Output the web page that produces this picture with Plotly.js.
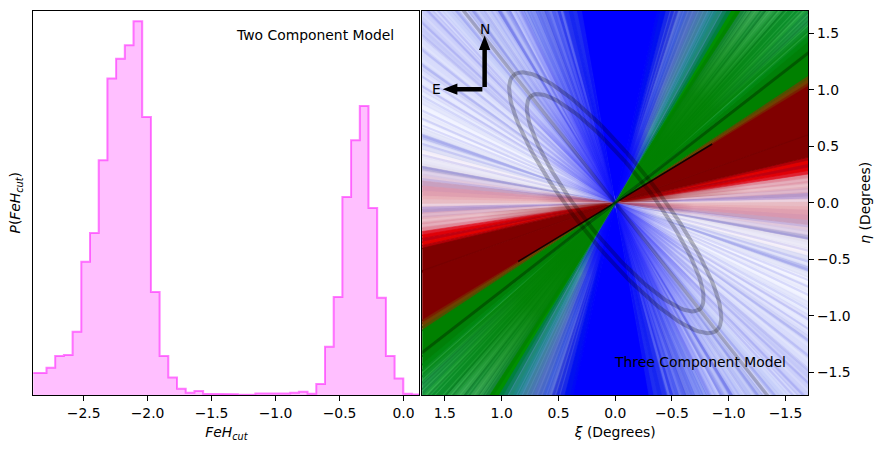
<!DOCTYPE html>
<html>
<head>
<meta charset="utf-8">
<script src="https://cdn.plot.ly/plotly-3.0.1.min.js"></script>
<style>html,body{margin:0;padding:0;background:#fff}#chart{width:884px;height:452px}</style>
</head>
<body>
<div id="chart"></div>
<script>
// ---- Left panel: metallicity histogram ----
const binEdges = [-2.926,-2.858,-2.790,-2.722,-2.654,-2.586,-2.518,-2.450,-2.382,-2.314,-2.246,-2.178,-2.110,-2.042,-1.974,-1.906,-1.838,-1.770,-1.702,-1.634,-1.566,-1.498,-1.430,-1.362,-1.294,-1.226,-1.158,-1.090,-1.022,-0.954,-0.886,-0.818,-0.750,-0.682,-0.614,-0.546,-0.478,-0.410,-0.342,-0.274,-0.206,-0.138,-0.070,-0.002,0.066,0.134];
const binDensity = [0.083,0.083,0.103,0.148,0.152,0.240,0.505,0.614,0.890,1.200,1.275,1.326,1.417,1.054,0.391,0.148,0.066,0.024,0.009,0.015,0.005,0.005,0.003,0.003,0.001,0.001,0.006,0.006,0.006,0.006,0.009,0.012,0.005,0.042,0.183,0.372,0.751,0.966,1.096,0.709,0.369,0.148,0.063,0.005,0.002];
const histTicks = [-2.5,-2,-1.5,-1,-0.5,0];

// ---- Right panel: position-angle fan (degrees CCW on screen from the right, each ray runs both ways) ----
const rayAngles = [0,1.2,2,3,4.5,6,7.5,8.5,9.5,10.5,11.5,12.5,13.3,19.4,19.7,31.4,32,32.8,33.5,38.5,40,41,42,43,44,45.1,46.5,47.7,49,50.6,52,53.2,54.5,55.7,57,59,60,61,62.2,63.5,64.6,65.8,67.1,68.5,69.7,71,72,73.2,74.3,75.4,77,77.9,99.9,101.3,102.5,103.7,105,106,107.4,109,110,110.9,112.2,113.2,114.3,115.5,116.5,117.5,118.5,119.5,120.6,121.5,123,124.5,126,127.5,129,130.5,132,133.3,134.7,136.5,138.2,139.5,141,142.5,144,145.5,147,148.5,150,151.5,153,155,157,158.7,160.3,161.8,163.5,164.7,166.5,168.4,169.2,170.5,172,173.5,175,176.5,178,179,180];
const rayColors = ['#e8c8d8','#d8b8d4','#b898c8','#d8a8c0','#e4b0bc','#e09cac','#e08898','#e02030','#e00008','#c00010','#e00000','#b00008','#800000','#760000','#800000','#7a2000','#704000','#505000','#008000','#008008','#008810','#0a8c20','#109030','#20984a','#189040','#20a040','#0e9030','#109030','#28a048','#38a858','#209048','#40a860','#38a060','#208850','#009000','#008040','#108060','#208878','#208888','#3488a0','#4080a0','#4878b0','#5070c0','#4868c8','#4060d8','#5068d8','#3040d8','#2030e0','#1828e8','#0010f0','#0008f8','#0000ff','#1018f8','#2030f0','#1828f0','#2838f0','#4050f0','#3848f0','#5060f0','#6070f0','#5060e8','#7080f0','#6878f0','#8898f4','#7888f0','#98a0f6','#a0a8f8','#b0b8fa','#98a0f2','#a8b0f6','#8890ee','#b0b8f8','#c0c8f8','#b8c0f6','#a8b0f0','#c8ccfa','#b8c0f6','#c8d0fa','#d4d8fc','#c0c4f8','#ccd0fa','#c4c8f8','#c8ccf8','#dadefc','#d0d4fa','#d8dcfc','#c8ccf6','#dcdffc','#e4e7fe','#d8dafa','#e8ecfe','#dfe2fb','#f0f2ff','#e8eafc','#f2f3ff','#e0e2f8','#bcc0f0','#dcdef8','#d8daf4','#f4eef8','#e8e6f6','#e4e0f0','#b8b0d8','#d8c8e4','#e0c8dc','#c8a0c0','#d898b0','#e0a0b0','#e8b0b8','#e8bcc4'];
// Fine streaks on top of the wedges
const paleStreaks = [105.5,107,108.6,110.5,112.8,114.9,116.9,118.1,120,122.2,123.9,125.5,127,128.6,130.1,131.5,133.8,135.6,137.3,139,140.6,142.2,143.4,145,146.3,147.8,149.3,150.8,152.2,153.6,155.8,157.6,159.4,162.4,163.9,165.5,167.2,171,0.6,3.6,5.2,6.8];
const blueStreaks = [104.2,106.4,109.6,111.6,113.7,115.9,118.7,121,124.1,126.4,129.5,132.6,134.2,136.9,138.9,141.5,144.4,146.7,148.8,151,154.4,156.4,158.1,160.8,163,166,169.5,173,1.6];
const greenStreaks = [41.5,42.7,44.4,45.6,47,48.3,49.6,51.2,52.6,53.9,55,56];
const darkGreenStreaks = [43.4,46,48.8,50,52,54.8];
const lavenderStreaks = [61,63,64.3,65.4,66.6,68,69.2,70.4,71.5,72.8,74];
// Near the centre the fan is denser: radial washes, solid to washPlateau of their radius, then fading out
const washStart   = [100,100,100,100,100,100,68,65,60.5,41.5,39.5,4,1,171];
const washEnd     = [118,126,135,148,160,170,78,78,78,58,58.5,13,13,179.5];
const washRadius  = [1.9,1.6,1.3,1.0,0.7,0.4,1.6,1.1,0.7,2.35,1.3,1.2,0.6,0.7];
const washPlateau = [0,0,0,0,0,0,0.2,0.2,0.4,0.5,0.5,0,0,0];
const washRgb     = ['0,0,255','0,0,255','0,0,255','0,0,255','0,0,255','0,0,255','0,0,255','0,0,255','0,0,255','0,128,0','0,128,0','128,0,0','128,0,0','128,0,40'];
const washAlpha   = [0.35,0.35,0.35,0.35,0.35,0.35,0.4,0.5,0.9,0.85,0.9,0.6,0.7,0.6];
// Ellipses: semi-major, semi-minor (degrees); position-axis screen angle
const ellipseMajor = [1.44,1.20];
const ellipseMinor = [0.36,0.30];
const majorAxisAngle = 128.2;
const tickVals = [-1.5,-1,-0.5,0,0.5,1,1.5];
const compassOrigin = [1.15,1.004];
const compassNorth = 1.48;
const compassEast = 1.52;
const headLength = 0.13, headHalfWidth = 0.05;

function xy(r,a){const t=a*Math.PI/180;return [-r*Math.cos(t),r*Math.sin(t)];}

const data=[];
const base2={type:'scatter',xaxis:'x2',yaxis:'y2',showlegend:false,hoverinfo:'skip'};
data.push({x:binEdges.flatMap((e,i)=>i<binDensity.length?[e,binEdges[i+1]]:[]),
  y:binDensity.flatMap(v=>[v,v]),type:'scatter',mode:'lines',line:{color:'rgba(255,0,255,0.5)',width:2},
  fill:'tozeroy',fillcolor:'rgba(255,0,255,0.25)',xaxis:'x',yaxis:'y',showlegend:false,hoverinfo:'skip'});

const R=4;
function addWedge(a0,a1,color){
  const p=xy(R,a0),q=xy(R,a1);
  data.push(Object.assign({},base2,{x:[0,p[0],q[0],0,null,0,-p[0],-q[0],0],y:[0,p[1],q[1],0,null,0,-p[1],-q[1],0],
    mode:'lines',line:{color:color,width:0.6},fill:'toself',fillcolor:color}));
}
rayColors.forEach((c,i)=>addWedge(rayAngles[i],rayAngles[i+1]+0.2,c));
function addRay(a,r,color,width){const p=xy(r,a);
  data.push(Object.assign({},base2,{x:[p[0],-p[0]],y:[p[1],-p[1]],mode:'lines',line:{color:color,width:width}}));}
paleStreaks.forEach(a=>addRay(a,4,'rgba(255,255,255,0.18)',2.2));
blueStreaks.forEach(a=>addRay(a,4,'rgba(40,40,220,0.12)',2.2));
greenStreaks.forEach(a=>addRay(a,4,'rgba(120,230,140,0.22)',1.2));
darkGreenStreaks.forEach(a=>addRay(a,4,'rgba(0,80,30,0.25)',1.2));
lavenderStreaks.forEach(a=>addRay(a,4,'rgba(130,150,240,0.22)',1.2));
washRgb.forEach((c,i)=>{
  const r=washRadius[i],xs=[0],ys=[0];
  for(let k=0;k<=24;k++){const p=xy(r,washStart[i]+(washEnd[i]-washStart[i])*k/24);xs.push(p[0]);ys.push(p[1]);}
  xs.push(0);ys.push(0);
  const e=0.002, solid='rgba('+c+','+washAlpha[i]+')', clear='rgba('+c+',0)';
  const scale=washPlateau[i]>0?[[0,solid],[washPlateau[i],solid],[1,clear]]:[[0,solid],[1,clear]];
  data.push(Object.assign({},base2,{
    x:xs.concat([null],xs.map(v=>-v),[null,r,r,r-e,r,null,-r,-r,-r+e,-r]),
    y:ys.concat([null],ys.map(v=>-v),[null,r,r-e,r,r,null,-r,-r+e,-r,-r]),
    mode:'none',fill:'toself',fillgradient:{type:'radial',colorscale:scale}}));
});
addRay(31.3,1.0,'rgba(0,0,0,0.85)',1.5);
addRay(37.9,4,'rgba(0,30,0,0.4)',3);
addRay(57.5,4,'rgba(0,130,0,0.5)',3);
addRay(majorAxisAngle,4,'rgba(0,0,0,0.22)',3.5);

ellipseMajor.forEach((a,k)=>{
  const b=ellipseMinor[k],t=majorAxisAngle*Math.PI/180,xs=[],ys=[];
  for(let d=0;d<=360;d+=3){const u=d*Math.PI/180,m=a*Math.cos(u),n=b*Math.sin(u);
    xs.push(-(m*Math.cos(t)-n*Math.sin(t)));ys.push(m*Math.sin(t)+n*Math.cos(t));}
  data.push(Object.assign({},base2,{x:xs,y:ys,mode:'lines',line:{color:'rgba(0,0,0,0.25)',width:4}}));
});

// compass
const cx=compassOrigin[0],cy=compassOrigin[1],d0=0.02;
data.push(Object.assign({},base2,{x:[cx,cx,null,cx+d0,compassEast-headLength*0.8],y:[cy+d0,compassNorth-headLength*0.8,null,cy,cy],mode:'lines',line:{color:'#000',width:4.5}}));
data.push(Object.assign({},base2,{x:[cx,cx-headHalfWidth,cx+headHalfWidth,cx,null,compassEast,compassEast-headLength,compassEast-headLength,compassEast],
  y:[compassNorth,compassNorth-headLength,compassNorth-headLength,compassNorth,null,cy,cy-headHalfWidth,cy+headHalfWidth,cy],mode:'none',fill:'toself',fillcolor:'#000'}));

const F={family:'"DejaVu Sans"',size:13.9,color:'#000'};
const common={showline:true,mirror:true,linecolor:'#000',linewidth:1,showgrid:false,zeroline:false,ticks:'outside',ticklen:5,tickwidth:1,tickcolor:'#000',tickfont:F,tickformat:'.1f'};
const layout={width:884,height:452,margin:{l:0,r:0,t:0,b:0},paper_bgcolor:'#fff',plot_bgcolor:'#fff',font:F,showlegend:false,
  xaxis:Object.assign({},common,{domain:[33.3/884,419.3/884],range:[-2.893,0.123],tickvals:histTicks,anchor:'y',
    title:{text:'<i>FeH</i><sub><i>cut</i></sub>',font:F,standoff:7}}),
  yaxis:Object.assign({},common,{domain:[57/452,441.5/452],range:[0,1.458],ticks:'',showticklabels:false,anchor:'x',
    title:{text:'<i>P</i>(<i>FeH</i><sub><i>cut</i></sub>)',font:F,standoff:8}}),
  xaxis2:Object.assign({},common,{domain:[422.2/884,808.2/884],range:[1.7,-1.7],tickvals:tickVals,anchor:'y2',
    title:{text:'<i>ξ</i> (Degrees)',font:F,standoff:7}}),
  yaxis2:Object.assign({},common,{domain:[57/452,441.5/452],range:[-1.7,1.7],tickvals:tickVals,side:'right',anchor:'x2',
    title:{text:'<i>η</i> (Degrees)',font:F,standoff:10}}),
  annotations:[
    {xref:'x',yref:'y',x:-1.328,y:1.364,text:'Two Component Model',showarrow:false,xanchor:'left',font:F},
    {xref:'x2',yref:'y2',x:0.026,y:-1.41,text:'Three Component Model',showarrow:false,xanchor:'left',font:F},
    {xref:'x2',yref:'y2',x:cx,y:1.54,text:'N',showarrow:false,font:F},
    {xref:'x2',yref:'y2',x:1.57,y:cy,text:'E',showarrow:false,font:F}
  ]};
Plotly.newPlot('chart',data,layout,{displayModeBar:false,staticPlot:true});
</script>
</body>
</html>
